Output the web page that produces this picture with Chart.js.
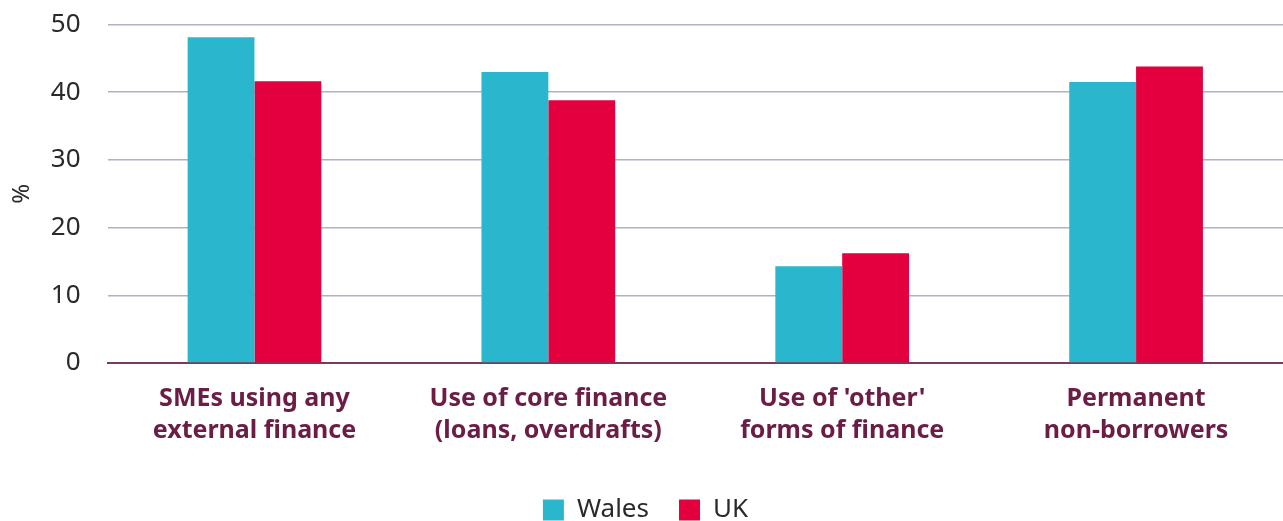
<!DOCTYPE html>
<html>
<head>
<meta charset="utf-8">
<script src="https://cdn.jsdelivr.net/npm/chart.js@4"></script>
<style>
  html, body { margin: 0; padding: 0; background: #fff; }
  #wrap { width: 1283px; height: 521px; position: relative; }
</style>
</head>
<body>
<div id="wrap"><canvas id="chart"></canvas></div>
<script>
// --- dados ---
const categorias = [
  ['SMEs using any', 'external finance'],
  ['Use of core finance', '(loans, overdrafts)'],
  ["Use of 'other'", 'forms of finance'],
  ['Permanent', 'non-borrowers']
];
const valoresWales = [48.1, 43.0, 14.3, 41.5];
const valoresUK = [41.6, 38.8, 16.2, 43.8];
const ticksY = [0, 10, 20, 30, 40, 50];

const corWales = '#2ab7cd';
const corUK = '#e4003e';
const corTexto = '#6b1d45';

Chart.defaults.font.family = '"Noto Sans", Lato, sans-serif';

new Chart(document.getElementById('chart'), {
  type: 'bar',
  data: {
    labels: categorias,
    datasets: [
      { label: 'Wales', data: valoresWales, backgroundColor: corWales },
      { label: 'UK', data: valoresUK, backgroundColor: corUK }
    ]
  },
  options: {
    responsive: true,
    maintainAspectRatio: false,
    animation: false,
    // o topo usa o maior valor entre este padding e a metade do rótulo do eixo y
    layout: { padding: { top: 24.5, right: 0, bottom: -12, left: 8 } },
    datasets: {
      bar: { barPercentage: 1, categoryPercentage: 0.455 }
    },
    scales: {
      x: {
        grid: { display: false, drawTicks: false },
        border: { color: '#7a3a5e', width: 2 },
        ticks: {
          color: corTexto,
          font: { size: 25, weight: 'bold', lineHeight: 1.28 },
          padding: 20,
          maxRotation: 0
        }
      },
      y: {
        min: 0,
        max: 50,
        afterBuildTicks: axis => { axis.ticks = ticksY.map(v => ({ value: v })); },
        border: { display: false },
        // tick marks invisíveis só para criar o espaço entre números e grade
        grid: { color: '#aeb2c4', lineWidth: 1.5, drawTicks: true, tickLength: 22, tickColor: 'rgba(0,0,0,0)' },
        ticks: { color: '#2a2a2a', font: { size: 26 }, padding: 5 },
        title: {
          display: true,
          text: '%',
          color: '#2a2a2a',
          font: { size: 24 },
          padding: { top: 0, bottom: 9 }
        }
      }
    },
    plugins: {
      legend: {
        position: 'bottom',
        labels: {
          color: '#2a2a2a',
          font: { size: 26 },
          boxWidth: 21,
          boxHeight: 21,
          padding: 30,
          useBorderRadius: false
        }
      },
      tooltip: { enabled: false }
    }
  }
});
</script>
</body>
</html>
